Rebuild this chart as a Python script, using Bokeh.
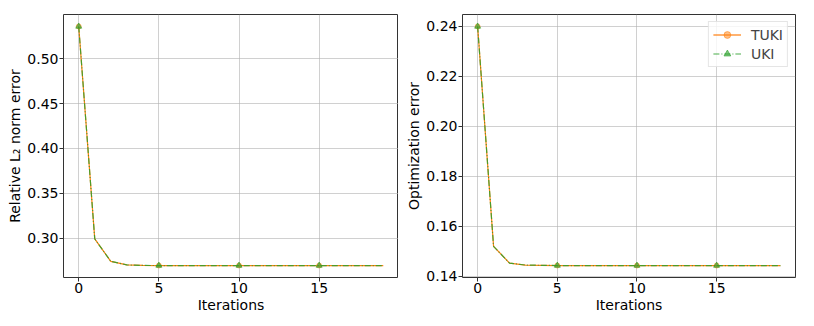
from bokeh.plotting import figure
from bokeh.layouts import row
from bokeh.models import FixedTicker, PrintfTickFormatter, Legend, LegendItem, Range1d
from bokeh.embed import file_html
from bokeh.resources import INLINE

iterations = list(range(20))
rel_tuki = [0.536, 0.299, 0.274, 0.2700, 0.2694] + [0.2693] * 15
rel_uki = [0.536, 0.299, 0.274, 0.2700, 0.2694] + [0.2693] * 15
opt_tuki = [0.240, 0.152, 0.1453, 0.1445, 0.1444] + [0.1443] * 15
opt_uki = [0.240, 0.152, 0.1453, 0.1445, 0.1444] + [0.1443] * 15
mark_idx = [0, 5, 10, 15]

x_ticks = [0, 5, 10, 15]
rel_ticks = [0.30, 0.35, 0.40, 0.45, 0.50]
opt_ticks = [0.14, 0.16, 0.18, 0.20, 0.22, 0.24]

ORANGE = "#ff7f0e"
GREEN = "#2ca02c"
FONT = "DejaVu Sans"


def make_fig(frame_w, border_left, border_right, ys_t, ys_u, yticks, ylabel):
    p = figure(frame_width=frame_w, frame_height=263, output_backend="svg",
               toolbar_location=None,
               min_border_left=border_left, min_border_right=border_right,
               min_border_top=14, min_border_bottom=40)
    lo = min(min(ys_t), min(ys_u))
    hi = max(max(ys_t), max(ys_u))
    pad = (hi - lo) * 0.05
    p.y_range = Range1d(lo - pad, hi + pad)
    p.x_range = Range1d(iterations[0] - 0.95, iterations[-1] + 0.95)
    p.outline_line_color = "#333333"
    p.outline_line_width = 1
    for ax in (p.xaxis[0], p.yaxis[0]):
        ax.axis_line_color = None
        ax.major_tick_out = 4
        ax.major_tick_in = 0
        ax.minor_tick_line_color = None
        ax.major_tick_line_color = "#333333"
        ax.major_label_text_font = FONT
        ax.major_label_text_font_size = "14px"
        ax.major_label_text_color = "black"
        ax.major_label_standoff = 1
        ax.axis_label_text_font = FONT
        ax.axis_label_text_font_size = "14px"
        ax.axis_label_text_font_style = "normal"
        ax.axis_label_text_color = "black"
        ax.axis_label_standoff = 1
    p.xaxis[0].ticker = FixedTicker(ticks=x_ticks)
    p.yaxis[0].ticker = FixedTicker(ticks=yticks)
    p.yaxis[0].formatter = PrintfTickFormatter(format="%.2f")
    p.xaxis[0].axis_label = "Iterations"
    p.yaxis[0].axis_label = ylabel
    p.grid.grid_line_color = "#b0b0b0"
    p.grid.grid_line_alpha = 0.6
    p.grid.grid_line_width = 1

    l1 = p.line(iterations, ys_t, line_color=ORANGE, line_width=1.2)
    m1 = p.scatter([iterations[i] for i in mark_idx], [ys_t[i] for i in mark_idx],
                   marker="circle", size=5, fill_color=ORANGE, line_color=ORANGE,
                   fill_alpha=0.5, line_alpha=0.5)
    l2 = p.line(iterations, ys_u, line_color=GREEN, line_width=1.2, line_dash="6 2 1 2",
                line_alpha=0.85)
    m2 = p.scatter([iterations[i] for i in mark_idx], [ys_u[i] for i in mark_idx],
                   marker="triangle", size=6, fill_color=GREEN, line_color=GREEN,
                   fill_alpha=0.6, line_alpha=0.6)
    return p, (l1, m1), (l2, m2)


p1, _, _ = make_fig(335, 63, 0, rel_tuki, rel_uki, rel_ticks, "Relative L\u2082 norm error")
p2, t_r, u_r = make_fig(333, 64, 1, opt_tuki, opt_uki, opt_ticks, "Optimization error")

legend = Legend(items=[LegendItem(label="TUKI", renderers=list(t_r)),
                       LegendItem(label="UKI", renderers=list(u_r))],
                location="top_right", margin=7, padding=4, spacing=2,
                label_text_font=FONT, label_text_font_size="14px",
                label_height=17, glyph_height=17, glyph_width=28, label_standoff=10,
                border_line_color="#cccccc", border_line_width=1,
                background_fill_alpha=0.8)
p2.add_layout(legend)

layout = row(p1, p2)
open("out.html", "w").write(file_html(layout, INLINE))
